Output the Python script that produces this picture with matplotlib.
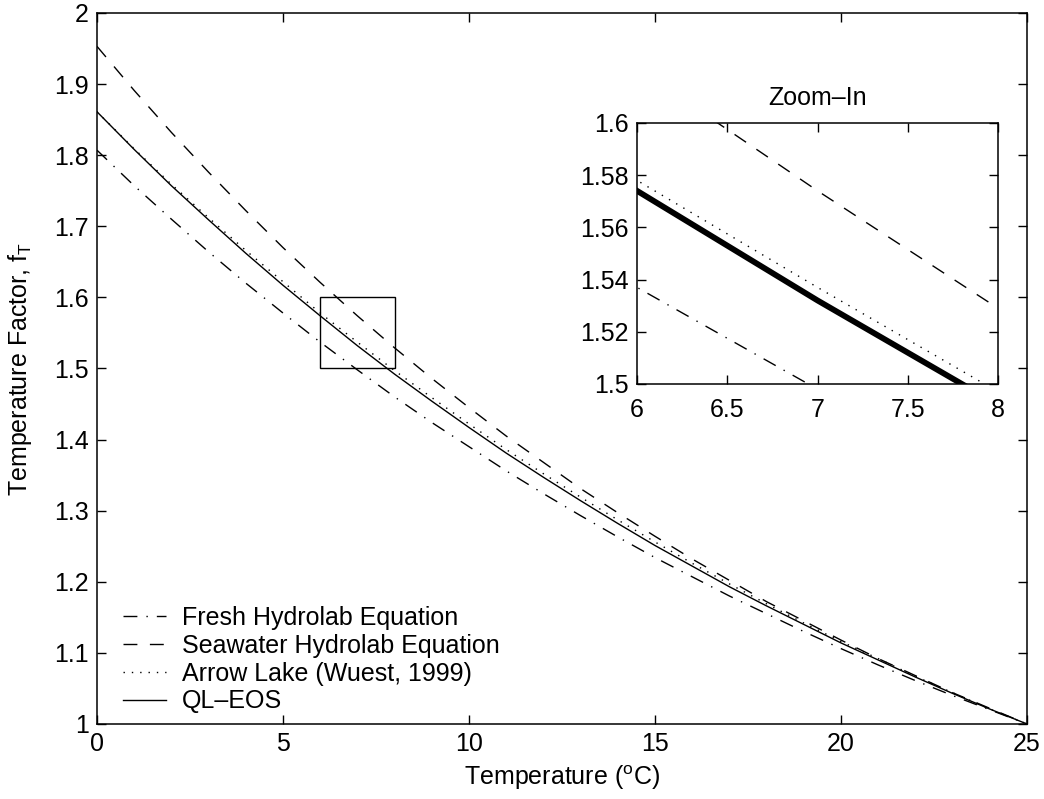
import numpy as np
import matplotlib
matplotlib.use('Agg')
import matplotlib.pyplot as plt
from matplotlib.patches import Rectangle

plt.rcParams['font.family'] = ['Liberation Sans', 'DejaVu Sans']
plt.rcParams['mathtext.fontset'] = 'custom'
plt.rcParams['mathtext.rm'] = 'Liberation Sans'
plt.rcParams['mathtext.it'] = 'Liberation Sans:italic'

# temperature (deg C) and temperature factor f_T
temp = [0, 1, 2, 3, 4, 5, 6, 7, 8, 9, 10, 11, 12, 13, 14, 15, 16, 17, 18, 19, 20, 21, 22, 23, 24, 25]
fresh = [1.807, 1.757, 1.710, 1.664, 1.620, 1.578, 1.537, 1.498, 1.460, 1.424, 1.390, 1.356, 1.324,
         1.293, 1.263, 1.234, 1.207, 1.180, 1.155, 1.130, 1.106, 1.083, 1.061, 1.040, 1.020, 1.000]
seawater = [1.953, 1.891, 1.832, 1.776, 1.722, 1.670, 1.621, 1.574, 1.529, 1.486, 1.445, 1.405, 1.368,
            1.331, 1.297, 1.264, 1.232, 1.202, 1.172, 1.145, 1.118, 1.092, 1.068, 1.044, 1.022, 1.000]
arrow = [1.861, 1.809, 1.759, 1.712, 1.666, 1.622, 1.578, 1.537, 1.497, 1.459, 1.422, 1.386, 1.352,
         1.319, 1.287, 1.256, 1.226, 1.197, 1.169, 1.142, 1.116, 1.092, 1.067, 1.044, 1.021, 1.000]
qleos = [1.861, 1.808, 1.757, 1.709, 1.662, 1.617, 1.574, 1.532, 1.492, 1.454, 1.417, 1.381, 1.347,
         1.314, 1.282, 1.251, 1.222, 1.193, 1.166, 1.140, 1.114, 1.090, 1.066, 1.043, 1.021, 1.000]

labels = ['Fresh Hydrolab Equation', 'Seawater Hydrolab Equation',
          'Arrow Lake (Wuest, 1999)', 'QL\u2013EOS']

xticks = [0, 5, 10, 15, 20, 25]
yticks = [1, 1.1, 1.2, 1.3, 1.4, 1.5, 1.6, 1.7, 1.8, 1.9, 2]
ytick_labels = ['1', '1.1', '1.2', '1.3', '1.4', '1.5', '1.6', '1.7', '1.8', '1.9', '2']

zoom_x = [6, 8]
zoom_y = [1.5, 1.6]
zx_ticks = [6, 6.5, 7, 7.5, 8]
zx_labels = ['6', '6.5', '7', '7.5', '8']
zy_ticks = [1.5, 1.52, 1.54, 1.56, 1.58, 1.6]
zy_labels = ['1.5', '1.52', '1.54', '1.56', '1.58', '1.6']

fs = 18
dashdot = (0, (10, 6.5, 1, 6.5))
dashed = (0, (10, 9))
dotted = (0, (1, 5))


def style_axes(ax):
    for s in ax.spines.values():
        s.set_linewidth(1.1)
    ax.tick_params(direction='in', top=True, right=True, length=6.5, width=1,
                   labelsize=fs, pad=6)


fig = plt.figure(figsize=(10.44, 7.99), dpi=100)
ax = fig.add_axes([0.0929, 0.0939, 0.8908, 0.8899])
ax.plot(temp, fresh, color='k', lw=1.0, linestyle=dashdot, label=labels[0])
ax.plot(temp, seawater, color='k', lw=1.0, linestyle=dashed, label=labels[1])
ax.plot(temp, arrow, color='k', lw=1.0, linestyle=dotted, label=labels[2])
ax.plot(temp, qleos, color='k', lw=1.0, label=labels[3])
ax.add_patch(Rectangle((zoom_x[0], zoom_y[0]), zoom_x[1] - zoom_x[0], zoom_y[1] - zoom_y[0],
                       fill=False, edgecolor='k', lw=1.0))
ax.set_xlim(0, 25)
ax.set_ylim(1, 2)
ax.set_xticks(xticks)
ax.set_xticklabels([str(t) for t in xticks])
ax.set_yticks(yticks)
ax.set_yticklabels(ytick_labels)
style_axes(ax)
ax.set_xlabel(r'Temperature ($^{\mathrm{o}}$C)', fontsize=fs, labelpad=5)
ax.set_ylabel(r'Temperature Factor, f$_{\mathrm{T}}$', fontsize=fs, labelpad=14)

leg = ax.legend(loc='lower left', bbox_to_anchor=(0.028, 0.015), frameon=False, fontsize=fs,
                handlelength=1.7, handletextpad=0.65, labelspacing=0.15,
                borderpad=0, borderaxespad=0)

# zoom-in inset
axi = fig.add_axes([0.6102, 0.5194, 0.3458, 0.3267])
axi.plot(temp, fresh, color='k', lw=1.0, linestyle=dashdot)
axi.plot(temp, seawater, color='k', lw=1.0, linestyle=dashed)
axi.plot(temp, arrow, color='k', lw=1.0, linestyle=dotted)
axi.plot(temp, qleos, color='k', lw=4.2)
axi.set_xlim(zoom_x)
axi.set_ylim(zoom_y)
axi.set_xticks(zx_ticks)
axi.set_xticklabels(zx_labels)
axi.set_yticks(zy_ticks)
axi.set_yticklabels(zy_labels)
style_axes(axi)
axi.tick_params(axis='x', pad=10)
axi.set_title('Zoom\u2013In', fontsize=fs, pad=13)

fig.savefig('out.png', dpi=100)
